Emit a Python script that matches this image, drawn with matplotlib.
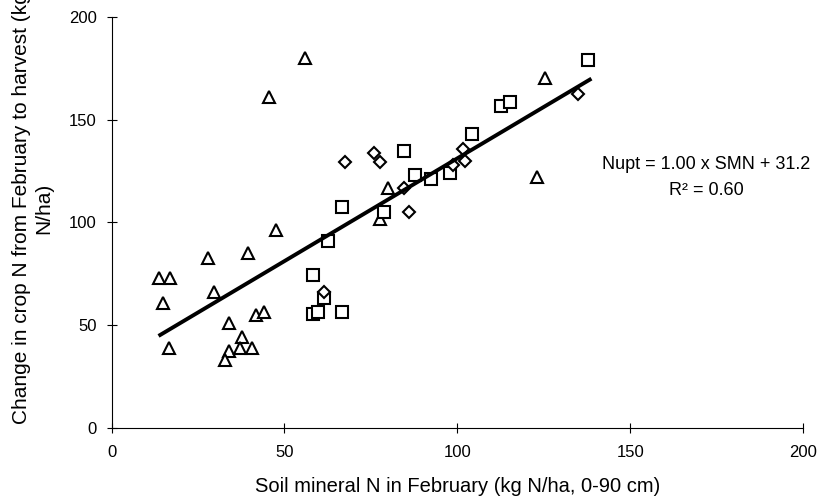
import matplotlib
matplotlib.use("Agg")
import matplotlib.pyplot as plt
import numpy as np

plt.rcParams['font.family'] = ['Liberation Sans', 'DejaVu Sans']

# triangles
tri_x = [13.6, 16.8, 28.0, 39.4, 29.7, 15.0, 16.7, 34.0, 41.7, 44.1, 37.6, 34.0, 37.1,
         40.6, 32.8, 56.1, 45.5, 47.5, 80.0, 77.7, 125.4, 123.1]
tri_y = [72.8, 72.8, 82.6, 85.3, 66.0, 60.7, 38.8, 50.9, 55.0, 56.6, 44.1, 37.5, 38.8,
         38.8, 33.1, 180.0, 161.1, 96.4, 116.6, 101.6, 170.2, 122.3]

# squares
sq_x = [104.4, 84.7, 87.7, 92.3, 97.8, 66.8, 78.8, 62.6, 58.4, 61.5, 58.2, 59.6, 66.7,
        137.8, 112.7, 115.2]
sq_y = [143.2, 134.9, 123.1, 121.2, 124.2, 107.4, 105.0, 91.0, 74.5, 63.4, 55.5, 56.4, 56.6,
        179.1, 156.8, 158.5]

# diamonds
dm_x = [67.5, 75.9, 77.6, 84.6, 86.0, 101.8, 102.3, 98.7, 61.5, 134.9]
dm_y = [129.3, 133.7, 129.3, 116.9, 105.0, 135.6, 130.1, 127.9, 66.3, 162.3]

slope = 1.00
intercept = 31.2
r2 = 0.60

fig = plt.figure(figsize=(8.2, 5), dpi=100)
ax = fig.add_axes([0.136, 0.144, 0.8433, 0.822])

mk = dict(linestyle='none', markerfacecolor='white', markeredgecolor='black',
          markeredgewidth=1.5)
ax.plot(tri_x, tri_y, marker='^', markersize=9, **mk)
ax.plot(sq_x, sq_y, marker='s', markersize=8.5, **mk)
ax.plot(dm_x, dm_y, marker='D', markersize=6.5, **mk)

all_x = np.array(tri_x + sq_x + dm_x)
lx = np.array([all_x.min(), all_x.max() + 1])
ax.plot(lx, slope * lx + intercept, color='black', linewidth=2.8, solid_capstyle='butt')

ax.text(172, 126.0, 'Nupt = %.2f x SMN + %.1f' % (slope, intercept),
        ha='center', va='baseline', fontsize=13)
ax.text(172, 113.4, 'R² = %.2f' % r2, ha='center', va='baseline', fontsize=13)

ax.set_xlim(0, 200)
ax.set_ylim(0, 200)
ax.set_xticks([0, 50, 100, 150, 200])
ax.set_yticks([0, 50, 100, 150, 200])
ax.spines['top'].set_visible(False)
ax.spines['right'].set_visible(False)
ax.tick_params(direction='inout', length=7, width=0.8, labelsize=12)
ax.tick_params(axis='x', pad=9)
ax.tick_params(axis='y', pad=7)

fig.text(0.558, 0.026, 'Soil mineral N in February (kg N/ha, 0-90 cm)',
         ha='center', va='center', fontsize=14.5)
fig.text(33 / 820, 1 - 208 / 500, 'Change in crop N from February to harvest (kg\nN/ha)',
         ha='center', va='center', rotation=90, multialignment='center', fontsize=15)

fig.savefig('out.png', dpi=100)
